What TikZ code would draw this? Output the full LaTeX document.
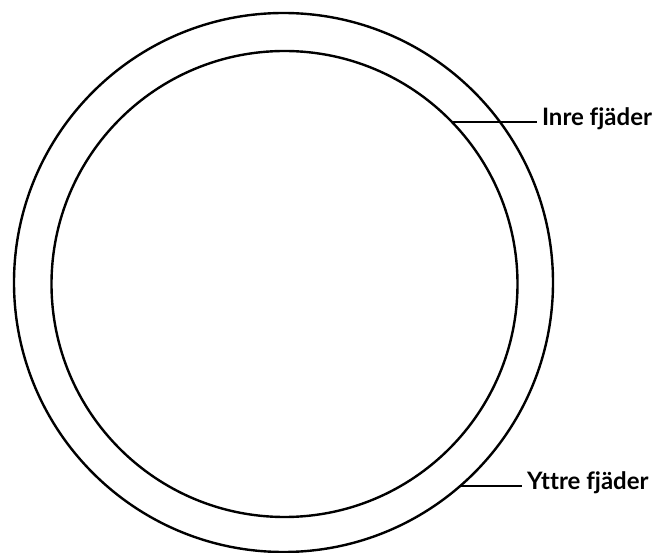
\documentclass[tikz,border=0pt]{standalone}
\usepackage{fontspec}
\setmainfont{Lato}[Ligatures=NoCommon]
\begin{document}
\begin{tikzpicture}[x=1pt, y=-1pt,
    ring/.style={circle, draw, line width=2.4pt, inner sep=0pt, outer sep=0pt},
    leader/.style={line width=1.9pt},
    tag/.style={font=\fontsize{24}{28}\selectfont\bfseries, inner sep=0pt, outer xsep=5pt, anchor=west}]
  \useasboundingbox (0,0) rectangle (654,553);

  % the two springs, seen from above
  \node[ring, minimum size=539pt] (outer) at (283.5,282.5) {};
  \node[ring, minimum size=466pt] (inner) at (284.5,284) {};

  % labels
  \node[tag] (inre) at (537,119) {Inre fjäder};
  \node[tag] (yttre) at (522,483) {Yttre fjäder};

  \draw[leader] (inner.44) -- (inner.44 -| inre.west);
  \draw[leader] (outer.-49) -- (outer.-49 -| yttre.west);
\end{tikzpicture}
\end{document}
